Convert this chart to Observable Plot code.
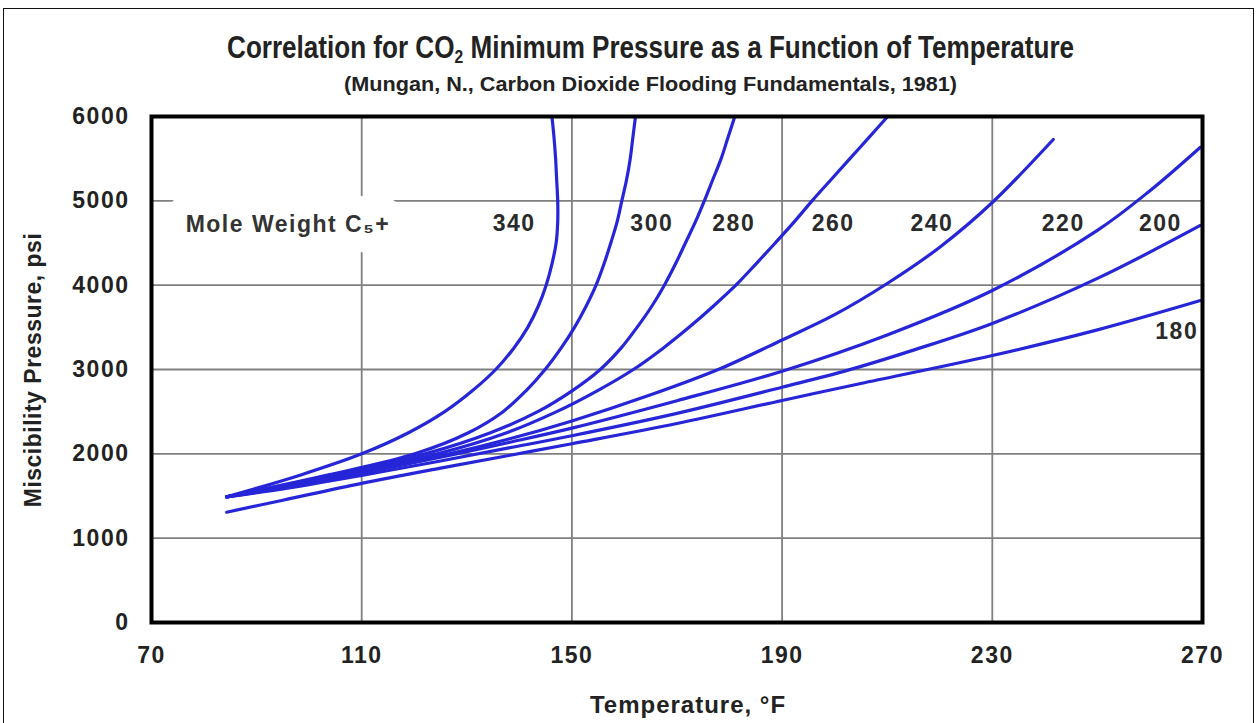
<!DOCTYPE html>
<html>
<head>
<meta charset="utf-8">
<script src="https://cdn.jsdelivr.net/npm/d3@7"></script>
<script src="https://cdn.jsdelivr.net/npm/@observablehq/plot@0.6"></script>
<style>
  body { margin: 0; background: #fff; width: 1257px; height: 723px; overflow: hidden; position: relative;
         font-family: "Liberation Sans", Arial, sans-serif; color: #222; }
  #border { position: absolute; left: 3px; top: 8px; width: 1249px; height: 740px; border: 1.5px solid #111;
            background: transparent; z-index: 5; }
  .fit { position: absolute; white-space: nowrap; font-weight: bold; transform-origin: center center; }
  #title { top: 30px; font-size: 31px; font-family: "Liberation Sans Narrow", "Arial Narrow", "Liberation Sans", Arial, sans-serif; }
  #title sub { font-size: 60%; vertical-align: -0.25em; line-height: 0; }
  #subtitle { top: 72px; font-size: 21px; font-family: "Liberation Sans Narrow", "Arial Narrow", "Liberation Sans", Arial, sans-serif; }
  #chart { position: absolute; left: 0; top: 100px; }
  #ytitle { position: absolute; left: 33px; top: 370px; font-weight: bold; font-size: 23px; letter-spacing: 0.5px;
            white-space: nowrap; transform: translate(-50%, -50%) rotate(-90deg); }
  #xtitle { position: absolute; left: 688px; top: 705px; font-weight: bold; font-size: 24px; letter-spacing: 1px;
            white-space: nowrap; transform: translate(-50%, -50%); }
</style>
</head>
<body>
<div id="border"></div>
<div id="title" class="fit">Correlation for CO<sub>2</sub> Minimum Pressure as a Function of Temperature</div>
<div id="subtitle" class="fit">(Mungan, N., Carbon Dioxide Flooding Fundamentals, 1981)</div>
<div id="chart"></div>
<div id="ytitle">Miscibility Pressure, psi</div>
<div id="xtitle">Temperature, °F</div>
<script>
// Axis ticks and grid
const tempTicks = [70, 110, 150, 190, 230, 270];
const presTicks = [0, 1000, 2000, 3000, 4000, 5000, 6000];
const tempGrid = [110, 150, 190, 230];
const presGrid = [1000, 2000, 3000, 4000, 5000];

// Minimum miscibility pressure curves, [temperature °F, pressure psi], one per C5+ mole weight
const mw340 = [[84.3,1490],[98.4,1750],[110,2000],[118.9,2250],[125.8,2500],[131.1,2750],[135.5,3000],[138.9,3250],
               [141.6,3500],[143.6,3750],[145.1,4000],[146.2,4250],[147,4500],[147.3,4750],[147.3,5000],[147.1,5250],
               [146.9,5500],[146.6,5750],[146.2,6000]];
const mw300 = [[84.3,1490],[103.7,1750],[120.1,2000],[130.3,2250],[136.9,2500],[141.3,2750],[144.9,3000],[147.9,3250],
               [150.5,3500],[152.7,3750],[154.6,4000],[156.1,4250],[157.4,4500],[158.6,4750],[159.5,5000],[160.4,5250],
               [161.1,5500],[161.6,5750],[162.1,6000]];
const mw280 = [[84.3,1490],[104.6,1750],[122.1,2000],[134.5,2250],[143.5,2500],[150.1,2750],[155.4,3000],[159.3,3250],
               [162.4,3500],[165.2,3750],[167.6,4000],[169.7,4250],[171.6,4500],[173.5,4750],[175.2,5000],[176.8,5250],
               [178.4,5500],[179.7,5750],[181.0,6000]];
const mw260 = [[84.3,1490],[105.6,1750],[124.4,2000],[137.6,2250],[147.1,2500],[154.9,2750],[161.7,3000],[167.3,3250],
               [172.3,3500],[176.9,3750],[181.2,4000],[185.0,4250],[188.7,4500],[192.3,4750],[195.7,5000],[199.3,5250],
               [202.9,5500],[206.5,5750],[210.1,6000]];
const mw240 = [[84.3,1490],[95,1600],[110,1785],[126.7,2000],[138,2175],[150,2390],[165,2700],[178.3,3012],[190,3350],
               [200,3650],[210,4020],[220,4450],[230,4980],[241.6,5727]];
const mw220 = [[84.3,1490],[95,1595],[110,1770],[128,2000],[138,2135],[150,2305],[170,2630],[190,2980],[210,3410],
               [230,3937],[250,4650],[260,5120],[269.6,5636]];
const mw200 = [[84.3,1490],[95,1585],[110,1745],[125,1915],[138,2070],[150,2215],[170,2480],[190,2790],[202.4,2990],
               [215,3230],[230,3546],[250,4080],[269.6,4708]];
const mw180 = [[84.3,1308],[95,1450],[110,1650],[125,1830],[138,1980],[150,2120],[170,2360],[190,2633],[205,2834],
               [230,3166],[250,3470],[269.6,3818]];

const moleWeights = [340, 300, 280, 260, 240, 220, 200, 180];
const series = [mw340, mw300, mw280, mw260, mw240, mw220, mw200, mw180];

// Where each curve's mole-weight label sits (temperature, pressure)
const labelTemp = [139.0, 165.2, 180.8, 199.7, 218.5, 243.5, 262.0, 265.1];
const labelPres = [4731, 4731, 4731, 4731, 4731, 4731, 4731, 3451];

const legendText = "Mole Weight C₅+";
const legendTemp = 76.5;
const legendPres = 4720;

const rows = series.flatMap((pts, i) => pts.map(([t, p]) => ({mw: moleWeights[i], t, p})));
const labels = moleWeights.map((mw, i) => ({mw, t: labelTemp[i], p: labelPres[i]}));

const chart = Plot.plot({
  width: 1257,
  height: 623,
  marginLeft: 151,
  marginRight: 55,
  marginTop: 16,
  marginBottom: 101,
  style: {fontFamily: "'Liberation Sans', Arial, sans-serif", fontSize: "23px", fontWeight: "bold",
          letterSpacing: "1.5px", color: "#222", background: "transparent"},
  x: {domain: [70, 270], ticks: tempTicks, tickSize: 0, tickPadding: 24, label: null, tickFormat: d => String(d)},
  y: {domain: [0, 6000], ticks: presTicks, tickSize: 0, tickPadding: 22, label: null, tickFormat: d => String(d)},
  marks: [
    Plot.gridX(tempGrid, {stroke: "#808080", strokeOpacity: 1, strokeWidth: 1.8}),
    Plot.gridY(presGrid, {stroke: "#808080", strokeOpacity: 1, strokeWidth: 1.8}),
    Plot.text([legendText], {x: () => legendTemp, y: () => legendPres, text: d => d, textAnchor: "start",
      fontSize: 23, fontWeight: "bold", fill: "#333", stroke: "white", strokeWidth: 40, strokeLinejoin: "round"}),
    Plot.line(rows, {x: "t", y: "p", z: "mw", stroke: "#2626d8", strokeWidth: 3.2, curve: "catmull-rom"}),
    Plot.text(labels, {x: "t", y: "p", text: d => String(d.mw), fontSize: 23, fontWeight: "bold", fill: "#2a2a2a"}),
    Plot.frame({stroke: "black", strokeWidth: 4})
  ]
});
document.getElementById("chart").appendChild(chart);

// Stretch the heading lines to their set widths around a common centre
function fit(id, center, width) {
  const el = document.getElementById(id);
  const w = el.getBoundingClientRect().width;
  el.style.left = (center - w / 2) + "px";
  el.style.transform = `scaleX(${width / w})`;
}
fit("title", 651, 847);
fit("subtitle", 651, 613);
</script>
</body>
</html>
